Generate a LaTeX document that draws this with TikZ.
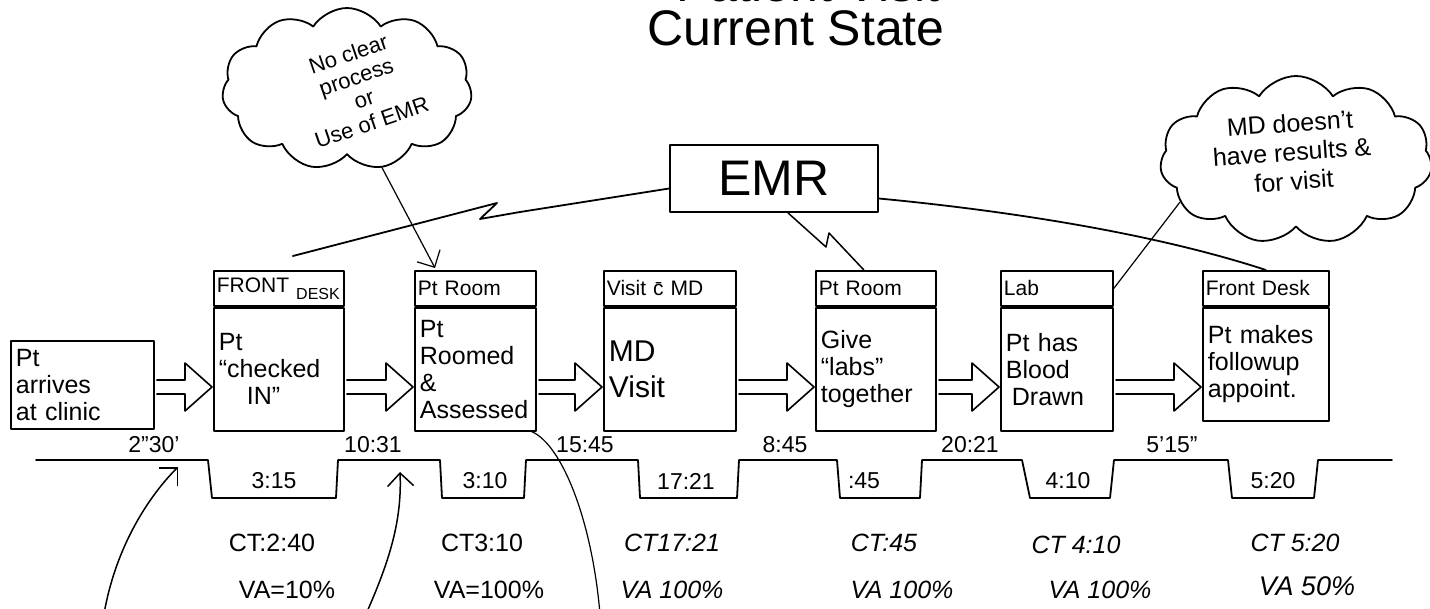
\documentclass[tikz,border=0pt]{standalone}
\usepackage{fontspec}
\setmainfont{Liberation Sans}
\usetikzlibrary{shapes.symbols,arrows.meta,calc}

\begin{document}
\begin{tikzpicture}[x=1pt,y=-1pt,
  ink/.style={line width=1.8pt,line join=round,line cap=round},
  fine/.style={line width=1.2pt,line join=round,line cap=round},
  headbox/.style={draw,ink,anchor=north west,inner sep=3pt,align=left,
    minimum height=35pt,font=\fontsize{21}{23}\selectfont},
  bodybox/.style={draw,ink,anchor=north west,inner sep=5pt,align=left,
    font=\fontsize{25}{27}\selectfont},
  push/.style={ink,line width=1.6pt,to path={
    ($(\tikztostart)+(2,-7)$) -- ($(\tikztotarget)+(-28,-7)$)
    -- ($(\tikztotarget)+(-28,-24)$) -- ($(\tikztotarget)+(-1,0)$)
    -- ($(\tikztotarget)+(-28,24)$) -- ($(\tikztotarget)+(-28,7)$)
    -- ($(\tikztostart)+(2,7)$)}},
  tlabel/.style={font=\fontsize{23}{23}\selectfont,inner sep=1pt},
  ctlabel/.style={font=\fontsize{25}{25}\selectfont,inner sep=1pt},
  slanted/.style={font=\fontsize{25}{25}\selectfont\itshape},
  balloon/.style={cloud,draw,ink,cloud puffs=11,cloud puff arc=115},
  barb/.style={-{Straight Barb[length=13pt,width=26pt]}}
]
\useasboundingbox (0,0) rectangle (1430,608);
\clip (0,0) rectangle (1430,608);
\fill[white] (0,0) rectangle (1430,608);

% title (its first line runs off the top of the sheet)
\node[font=\fontsize{50}{50}\selectfont,anchor=base] (title0) at (808,1) {Patient Visit};
\node[font=\fontsize{50}{50}\selectfont,anchor=base] (title) at (796,45) {Current State};

% remark clouds
\node[balloon,minimum width=250pt,minimum height=162pt] (c1) at (347,89) {};
\node[rotate=19,align=center,font=\fontsize{22}{24}\selectfont] (c1t) at (360,88)
  {No clear\\process\\or\\Use of EMR};
\node[balloon,minimum width=272pt,minimum height=168pt] (c2) at (1296,160) {};
\node[rotate=4,align=center,font=\fontsize{25}{29}\selectfont] (c2t) at (1292,152)
  {MD doesn't\\have results \&\\for visit};

% information system
\node[draw,ink,minimum width=208pt,minimum height=67pt,
      font=\fontsize{50}{50}\selectfont] (emr) at (774,178.5) {EMR};

% process boxes
\node[bodybox,text width=133pt,minimum height=88pt,inner ysep=3pt] (b1) at (10,340)
  {Pt\\arrives\\at clinic};

\node[headbox,text width=124pt] (h2) at (213,270)
  {FRONT \raisebox{-7pt}{\fontsize{16}{16}\selectfont DESK}};
\node[bodybox,text width=120pt,minimum height=123pt] (b2) at (h2.south west)
  {Pt\\``checked\\\hspace*{28pt}IN''};

\node[headbox,text width=115pt] (h3) at (414,270) {Pt Room};
\node[bodybox,text width=111pt,minimum height=123pt] (b3) at (h3.south west)
  {Pt\\Roomed\\\&\\Assessed};

\node[headbox,text width=126pt] (h4) at (603,270) {Visit \={c} MD};
\node[bodybox,text width=122pt,minimum height=123pt,
      font=\fontsize{30}{36}\selectfont] (b4) at (h4.south west) {MD\\Visit};

\node[headbox,text width=114pt] (h5) at (815,270) {Pt Room};
\node[bodybox,text width=110pt,minimum height=123pt] (b5) at (h5.south west)
  {Give\\``labs''\\together};

\node[headbox,text width=106pt] (h6) at (1000,270) {Lab};
\node[bodybox,text width=102pt,minimum height=123pt] (b6) at (h6.south west)
  {Pt has\\Blood\\\hspace*{6pt}Drawn};

\node[headbox,text width=120pt] (h7) at (1202,270) {Front Desk};
\node[bodybox,text width=116pt,minimum height=113pt] (b7) at (h7.south west)
  {Pt makes\\followup\\appoint.};

% push arrows between the steps
\coordinate (row) at (0,387);
\draw[push] (b1.east |- row) to (b2.west |- row);
\draw[push] (b2.east |- row) to (b3.west |- row);
\draw[push] (b3.east |- row) to (b4.west |- row);
\draw[push] (b4.east |- row) to (b5.west |- row);
\draw[push] (b5.east |- row) to (b6.west |- row);
\draw[push] (b6.east |- row) to (b7.west |- row);

% electronic information flow
\draw[ink] ($(emr.west)+(0,10)$) -- (520,212) -- (480,219) -- (497,203)
  -- ($(h2.north)+(14,-14)$);
\draw[ink] ($(emr.east)+(0,20)$) .. controls (1000,210) and (1150,232) .. (h7.north);
\draw[ink,line width=1.5pt] ($(emr.south)+(14,0)$) -- (826,247) -- (829,233)
  -- ($(h5.north)+(-12,0)$);

% remark pointers
\draw[fine,barb] (c1.-66) -- ($(h3.north west)+(21,-2)$);
\draw[fine] (c2.-160) -- (h6.east);

% timeline
\draw[ink] (36,460) -- (208,460) -- (212,498) -- (336,498) -- (338,460)
  -- (440,460) -- (442,498) -- (524,498) -- (526,460)
  -- (638,460) -- (640,498) -- (737,498) -- (739,460)
  -- (837,460) -- (840,498) -- (920,498) -- (922,460)
  -- (1022,460) -- (1030,498) -- (1110,498) -- (1114,460)
  -- (1228,460) -- (1232,498) -- (1314,498) -- (1318,460) -- (1392,460);

% waiting times
\node[tlabel] (w1) at (154,445) {2"30'};
\node[tlabel] (w2) at (373,445) {10:31};
\node[tlabel] (w3) at (585,445) {15:45};
\node[tlabel] (w4) at (785,445) {8:45};
\node[tlabel] (w5) at (970,445) {20:21};
\node[tlabel] (w6) at (1172,445) {5'15"};

% processing times
\node[tlabel] (p1) at (274,481) {3:15};
\node[tlabel] (p2) at (485,481) {3:10};
\node[tlabel] (p3) at (686,481) {17:21};
\node[tlabel] (p4) at (864,481) {:45};
\node[tlabel] (p5) at (1068,481) {4:10};
\node[tlabel] (p6) at (1273,481) {5:20};

% cycle times and value-added ratios
\node[ctlabel] (ct1) at (272,543) {CT:2:40};
\node[ctlabel] (ct2) at (482,543) {CT3:10};
\node[ctlabel,slanted] (ct3) at (672,543) {CT17:21};
\node[ctlabel,slanted] (ct4) at (884,543) {CT:45};
\node[ctlabel,slanted] (ct5) at (1076,545) {CT 4:10};
\node[ctlabel,slanted] (ct6) at (1295,543) {CT 5:20};

\node[ctlabel] (va1) at (287,590) {VA=10\%};
\node[ctlabel] (va2) at (489,590) {VA=100\%};
\node[ctlabel,slanted] (va3) at (672,590) {VA 100\%};
\node[ctlabel,slanted] (va4) at (902,590) {VA 100\%};
\node[ctlabel,slanted] (va5) at (1100,590) {VA 100\%};
\node[ctlabel,slanted,font=\fontsize{27}{27}\selectfont\itshape] (va6) at (1307,586) {VA 50\%};

% pointers from below onto the waiting times
\coordinate (q1) at (104,614);
\coordinate (q1t) at (178,467);
\draw[ink,line width=1.5pt,barb] (q1) .. controls (116,545) and (150,495) .. (q1t);
\coordinate (q2) at (366,614);
\coordinate (q2t) at (400,472);
\draw[ink,line width=1.5pt,barb] (q2) .. controls (390,560) and (402,520) .. (q2t);
\coordinate (q3) at (600,614);
\draw[fine] ($(b3.south east)+(-5,0)$) .. controls (562,445) and (592,520) .. (q3);
\end{tikzpicture}
\end{document}
